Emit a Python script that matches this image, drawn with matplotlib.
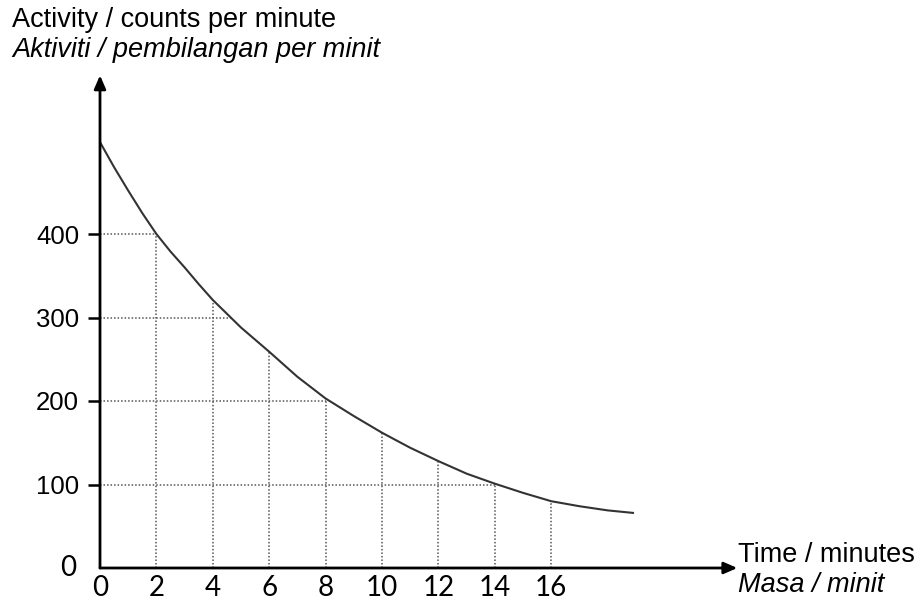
import matplotlib.pyplot as plt

# curve (time in minutes, activity in counts per minute)
masa = [0, 0.5, 1, 1.5, 2, 2.5, 3, 3.5, 4, 5, 6, 7, 8, 9, 10, 11, 12, 13, 14,
        15, 16, 17, 18, 18.9]
aktiviti = [510, 480, 452, 425, 400, 379, 360, 340, 321, 288, 259, 229, 203,
            182, 162, 144, 128, 113, 101, 90, 80, 74, 69, 66]

# dotted guide lines: vertical ones at each even minute, horizontal at each level
garis_masa = [2, 4, 6, 8, 10, 12, 14, 16]
garis_nilai = [400, 321, 259, 203, 162, 128, 101, 80]
aras = [400, 300, 200, 100]
aras_masa = [2, 4.64, 8, 14]

xticks = [0, 2, 4, 6, 8, 10, 12, 14, 16]
yticks = [100, 200, 300, 400]

W, H = 922, 604
fig = plt.figure(figsize=(W / 100, H / 100), dpi=100)
x0, y0 = 100, 568
px_x, px_y = 28.2, 0.835
xmax, ymax = 22.6, 590
ax = fig.add_axes([x0 / W, (H - y0) / H, xmax * px_x / W, ymax * px_y / H])
ax.set_xlim(0, xmax)
ax.set_ylim(0, ymax)
for s in ax.spines.values():
    s.set_visible(False)

dot = dict(color="#555555", lw=1.1, ls=(0, (1, 1.3)))
for t, v in zip(garis_masa, garis_nilai):
    ax.plot([t, t], [0, v], **dot)
for v, t in zip(aras, aras_masa):
    ax.plot([0, t], [v, v], **dot)

ax.plot(masa, aktiviti, color="#333333", lw=1.5)

# axes with arrow heads
ax.annotate("", xy=(xmax, 0), xytext=(0, 0), annotation_clip=False,
            arrowprops=dict(arrowstyle="-|>,head_length=0.8,head_width=0.35",
                            color="black", lw=2, shrinkA=0, shrinkB=0))
ax.annotate("", xy=(0, ymax), xytext=(0, 0), annotation_clip=False,
            arrowprops=dict(arrowstyle="-|>,head_length=0.8,head_width=0.35",
                            color="black", lw=2, shrinkA=0, shrinkB=0))

ax.set_yticks(yticks)
ax.set_yticklabels([str(v) for v in yticks], fontsize=18.5, family="Liberation Sans")
ax.tick_params(axis="y", length=9, width=1.8, pad=6)
ax.set_xticks(xticks)
ax.set_xticklabels([str(v) for v in xticks], fontsize=20, family="Lato")
ax.tick_params(axis="x", length=0, pad=5)
ax.text(-0.85, 0, "0", fontsize=20, family="Lato", ha="right", va="center")

fig.text(12 / W, 1 - 20 / H, "Activity / counts per minute", fontsize=19.5,
         family="Liberation Sans", va="center")
fig.text(12 / W, 1 - 50 / H, "Aktiviti / pembilangan per minit", fontsize=19.5,
         family="Liberation Sans", style="italic", va="center")
fig.text(738 / W, 1 - 555 / H, "Time / minutes", fontsize=19.5,
         family="Liberation Sans", va="center")
fig.text(738 / W, 1 - 585 / H, "Masa / minit", fontsize=19.5,
         family="Liberation Sans", style="italic", va="center")

fig.savefig("out.png", dpi=100)
